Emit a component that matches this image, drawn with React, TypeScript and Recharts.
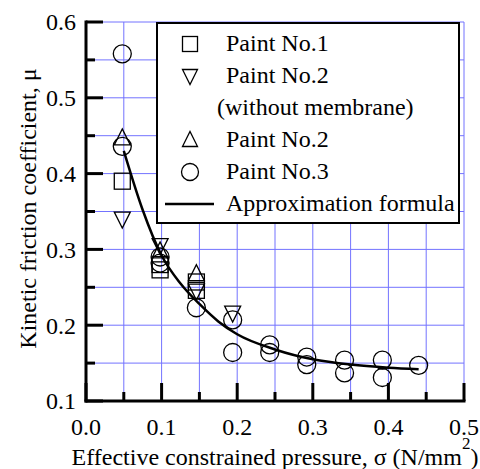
import React from 'react';
import { ComposedChart, Scatter, Line, XAxis, YAxis, CartesianGrid, Legend, Label } from 'recharts';

// tick positions (minor every 0.05, labels only on 0.1 steps)
const xTicks = [0, 0.05, 0.1, 0.15, 0.2, 0.25, 0.3, 0.35, 0.4, 0.45, 0.5];
const yTicks = [0.1, 0.15, 0.2, 0.25, 0.3, 0.35, 0.4, 0.45, 0.5, 0.55, 0.6];

// measured points
const paint1 = [
  { x: 0.048, y: 0.39 },
  { x: 0.098, y: 0.28 },
  { x: 0.098, y: 0.273 },
  { x: 0.146, y: 0.257 },
  { x: 0.146, y: 0.246 },
];

const paint2NoMembrane = [
  { x: 0.048, y: 0.34 },
  { x: 0.098, y: 0.305 },
  { x: 0.146, y: 0.245 },
  { x: 0.194, y: 0.216 },
];

const paint2 = [
  { x: 0.048, y: 0.447 },
  { x: 0.098, y: 0.298 },
  { x: 0.146, y: 0.268 },
];

const paint3 = [
  { x: 0.048, y: 0.558 },
  { x: 0.048, y: 0.436 },
  { x: 0.098, y: 0.29 },
  { x: 0.098, y: 0.282 },
  { x: 0.146, y: 0.223 },
  { x: 0.194, y: 0.207 },
  { x: 0.194, y: 0.164 },
  { x: 0.243, y: 0.174 },
  { x: 0.243, y: 0.164 },
  { x: 0.292, y: 0.158 },
  { x: 0.292, y: 0.148 },
  { x: 0.342, y: 0.154 },
  { x: 0.342, y: 0.137 },
  { x: 0.392, y: 0.154 },
  { x: 0.392, y: 0.131 },
  { x: 0.44, y: 0.147 },
];

// approximation formula
const approxCurve = [
  { x: 0.05, y: 0.43 },
  { x: 0.075, y: 0.352 },
  { x: 0.1, y: 0.292 },
  { x: 0.125, y: 0.255 },
  { x: 0.15, y: 0.228 },
  { x: 0.175, y: 0.205 },
  { x: 0.2, y: 0.188 },
  { x: 0.25, y: 0.168 },
  { x: 0.3, y: 0.155 },
  { x: 0.35, y: 0.148 },
  { x: 0.4, y: 0.144 },
  { x: 0.44, y: 0.142 },
];

const FONT = 'Liberation Serif, DejaVu Serif, serif';
const GRID = '#7373ff';
const MARK = 1.3;

type Kind = 'square' | 'down' | 'up' | 'circle' | 'line';

const marker = (kind: Kind, cx: number, cy: number, s: number) => {
  const h = s / 2;
  if (kind === 'square')
    return <rect x={cx - h} y={cy - h} width={s} height={s} fill="none" stroke="#000" strokeWidth={MARK} />;
  if (kind === 'circle')
    return <circle cx={cx} cy={cy} r={h + 1} fill="none" stroke="#000" strokeWidth={MARK} />;
  if (kind === 'down')
    return (
      <polygon
        points={`${cx - h},${cy - h + 1} ${cx + h},${cy - h + 1} ${cx},${cy + h + 1}`}
        fill="none"
        stroke="#000"
        strokeWidth={MARK}
      />
    );
  if (kind === 'up')
    return (
      <polygon
        points={`${cx - h},${cy + h - 1} ${cx + h},${cy + h - 1} ${cx},${cy - h - 1}`}
        fill="none"
        stroke="#000"
        strokeWidth={MARK}
      />
    );
  return null;
};

const shapeOf = (kind: Kind) => (props: any) => <g>{marker(kind, props.cx, props.cy, 16)}</g>;

const legendRows: { kind: Kind | null; text: string; indent?: number }[] = [
  { kind: 'square', text: 'Paint No.1' },
  { kind: 'down', text: 'Paint No.2' },
  { kind: null, text: '(without membrane)', indent: 59 },
  { kind: 'up', text: 'Paint No.2' },
  { kind: 'circle', text: 'Paint No.3' },
  { kind: 'line', text: 'Approximation formula' },
];

const renderLegend = () => (
  <div
    style={{
      width: 304,
      height: 202,
      boxSizing: 'border-box',
      border: '2px solid #000',
      background: '#fff',
      fontFamily: FONT,
      fontSize: 24,
      paddingTop: 3,
      textAlign: 'left',
    }}
  >
    {legendRows.map((r, i) => (
      <div key={i} style={{ position: 'relative', height: 32, lineHeight: '32px', whiteSpace: 'nowrap' }}>
        {r.kind && (
          <svg width={60} height={32} style={{ position: 'absolute', left: 2, top: 0 }}>
            {r.kind === 'line' ? (
              <line x1={5} y1={17} x2={54} y2={17} stroke="#000" strokeWidth={2.5} />
            ) : (
              marker(r.kind, 30, 17, 15)
            )}
          </svg>
        )}
        <span style={{ position: 'absolute', left: r.indent ?? 68, top: 0 }}>{r.text}</span>
      </div>
    ))}
  </div>
);

const isMajor = (v: number) => Math.round(v * 100) % 10 === 0;

const LeftTick = (props: any) => {
  const { x, y, payload } = props;
  const major = isMajor(payload.value);
  return (
    <g>
      <line x1={x} y1={y} x2={x + (major ? 17 : 9)} y2={y} stroke="#000" strokeWidth={3} />
      {major && (
        <text x={x - 10} y={y} dy="0.35em" textAnchor="end" fontFamily={FONT} fontSize={24} fill="#000">
          {payload.value.toFixed(1)}
        </text>
      )}
    </g>
  );
};

const RightTick = (props: any) => {
  const { x, y, payload } = props;
  return <line x1={x} y1={y} x2={x - (isMajor(payload.value) ? 17 : 9)} y2={y} stroke="#000" strokeWidth={3} />;
};

const BottomTick = (props: any) => {
  const { x, y, payload } = props;
  const major = isMajor(payload.value);
  return (
    <g>
      <line x1={x} y1={y} x2={x} y2={y - (major ? 18 : 9)} stroke="#000" strokeWidth={3} />
      {major && (
        <text x={x} y={y + 34} textAnchor="middle" fontFamily={FONT} fontSize={24} fill="#000">
          {payload.value.toFixed(1)}
        </text>
      )}
    </g>
  );
};

const TopTick = (props: any) => {
  const { x, y, payload } = props;
  return <line x1={x} y1={y} x2={x} y2={y + (isMajor(payload.value) ? 18 : 9)} stroke="#000" strokeWidth={3} />;
};

const frame = { stroke: '#000', strokeWidth: 3, strokeLinecap: 'square' as const };

export default function App() {
  return (
    <div style={{ position: 'absolute', left: 0, top: 0, background: '#fff', fontFamily: FONT }}>
      <ComposedChart width={480} height={469} margin={{ top: 22, right: 16, left: 0, bottom: 0 }}>
        <CartesianGrid stroke={GRID} strokeWidth={1} />
        <XAxis
          dataKey="x"
          type="number"
          domain={[0, 0.5]}
          ticks={xTicks}
          height={68}
          tickSize={0}
          tickMargin={0}
          tick={<BottomTick />}
          axisLine={frame}
          interval={0}
        >
          <Label
            content={({ viewBox }: any) => (
              <text
                x={viewBox.x + viewBox.width / 2}
                y={viewBox.y + 64}
                textAnchor="middle"
                fontFamily={FONT}
                fontSize={24}
                fill="#000"
              >
                Effective constrained pressure, σ (N/mm
                <tspan dy={-16} fontSize={17}>2</tspan>
                <tspan dy={16}>)</tspan>
              </text>
            )}
          />
        </XAxis>
        <XAxis
          xAxisId="top"
          orientation="top"
          dataKey="x"
          type="number"
          domain={[0, 0.5]}
          ticks={xTicks}
          height={0}
          tickSize={0}
          tickMargin={0}
          tick={<TopTick />}
          axisLine={frame}
          interval={0}
        />
        <YAxis
          type="number"
          domain={[0.1, 0.6]}
          ticks={yTicks}
          width={86}
          tickSize={0}
          tickMargin={0}
          tick={<LeftTick />}
          axisLine={frame}
          interval={0}
        >
          <Label
            content={({ viewBox }: any) => (
              <text
                transform={`translate(${viewBox.x + 36}, ${viewBox.y + viewBox.height / 2 - 3}) rotate(-90)`}
                textAnchor="middle"
                fontFamily={FONT}
                fontSize={24}
                fill="#000"
              >
                Kinetic friction coefficient,  μ
              </text>
            )}
          />
        </YAxis>
        <YAxis
          yAxisId="right"
          orientation="right"
          type="number"
          domain={[0.1, 0.6]}
          ticks={yTicks}
          width={0}
          tickSize={0}
          tickMargin={0}
          tick={<RightTick />}
          axisLine={frame}
          interval={0}
        />
        <Legend
          content={renderLegend}
          layout="horizontal"
          verticalAlign="middle"
          align="center"
          wrapperStyle={{ left: 156, top: 22, width: 304, height: 202, margin: 0 }}
        />
        <Line
          data={approxCurve}
          dataKey="y"
          type="monotone"
          dot={false}
          stroke="#000"
          strokeWidth={2.5}
          isAnimationActive={false}
        />
        <Scatter data={paint1} dataKey="y" shape={shapeOf('square')} isAnimationActive={false} />
        <Scatter data={paint2NoMembrane} dataKey="y" shape={shapeOf('down')} isAnimationActive={false} />
        <Scatter data={paint2} dataKey="y" shape={shapeOf('up')} isAnimationActive={false} />
        <Scatter data={paint3} dataKey="y" shape={shapeOf('circle')} isAnimationActive={false} />
      </ComposedChart>
    </div>
  );
}
